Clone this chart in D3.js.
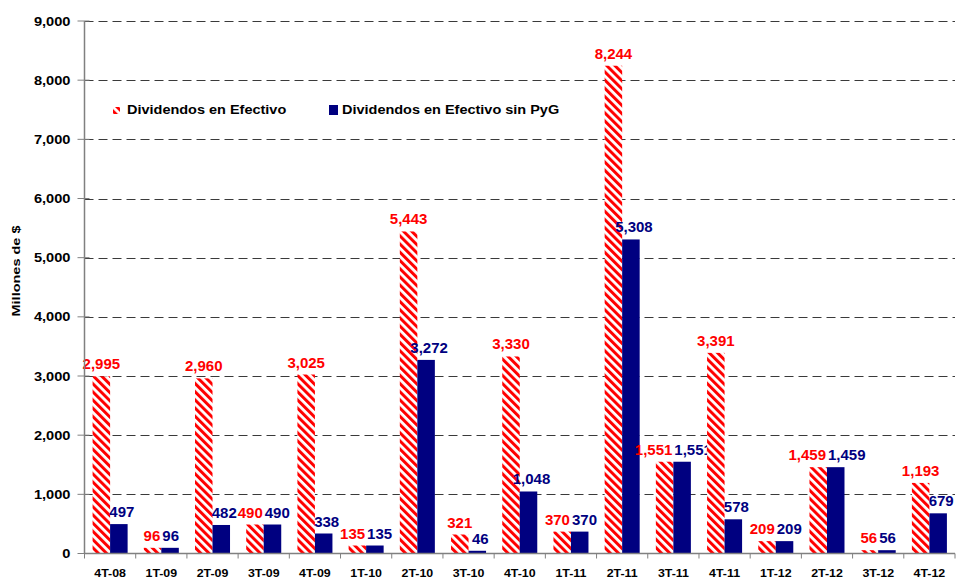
<!DOCTYPE html>
<html>
<head>
<meta charset="utf-8">
<script src="https://cdn.jsdelivr.net/npm/d3@7"></script>
<style>
  body { margin: 0; background: #fff; }
  svg { display: block; font-family: Arial, "Liberation Sans", sans-serif; }
</style>
</head>
<body>
<svg id="chart" width="956" height="581"></svg>
<script>
// ---------- data ----------
var quarters = ["4T-08","1T-09","2T-09","3T-09","4T-09","1T-10","2T-10","3T-10","4T-10","1T-11","2T-11","3T-11","4T-11","1T-12","2T-12","3T-12","4T-12"];
var efectivo = [2995, 96, 2960, 490, 3025, 135, 5443, 321, 3330, 370, 8244, 1551, 3391, 209, 1459, 56, 1193];
var sinPyG   = [497, 96, 482, 490, 338, 135, 3272, 46, 1048, 370, 5308, 1551, 578, 209, 1459, 56, 679];
var yTicks   = [0, 1000, 2000, 3000, 4000, 5000, 6000, 7000, 8000, 9000];
var seriesNames = ["Dividendos en Efectivo", "Dividendos en Efectivo sin PyG"];

var red = "#ff0000", navy = "#000080";
var fmt = d3.format(",");

// ---------- setup ----------
var svg = d3.select("#chart");
var plot = {left: 84.5, right: 955, top: 21, bottom: 553.5};

var defs = svg.append("defs");
var pat = defs.append("pattern")
  .attr("id", "hatch")
  .attr("patternUnits", "userSpaceOnUse")
  .attr("width", 5.8).attr("height", 5.8)
  .attr("patternTransform", "rotate(-45)");
pat.append("rect").attr("width", 5.8).attr("height", 5.8).attr("fill", "#fff");
pat.append("rect").attr("width", 3).attr("height", 5.8).attr("fill", red);

var xScale = d3.scaleBand()
  .domain(quarters)
  .range([plot.left, plot.right])
  .paddingInner(0.316)
  .paddingOuter(0.158);
var inner = d3.scaleBand().domain([0, 1]).range([0, xScale.bandwidth()]);

var yScale = d3.scaleLinear()
  .domain([0, 9000])
  .range([plot.bottom, plot.top]);

// ---------- gridlines ----------
svg.append("g")
  .selectAll("line")
  .data(yTicks.filter(function (d) { return d > 0; }))
  .enter()
  .append("line")
  .attr("x1", plot.left).attr("x2", plot.right)
  .attr("y1", function (d) { return Math.round(yScale(d)) + 0.5; })
  .attr("y2", function (d) { return Math.round(yScale(d)) + 0.5; })
  .attr("stroke", "#3a3a3a")
  .attr("stroke-dasharray", "9,5");

// ---------- bars ----------
var rows = quarters.map(function (q, i) {
  return {q: q, vals: [efectivo[i], sinPyG[i]]};
});

var groups = svg.append("g")
  .selectAll("g")
  .data(rows)
  .enter()
  .append("g")
  .attr("transform", function (d) { return "translate(" + xScale(d.q) + ",0)"; });

groups.selectAll("rect")
  .data(function (d) { return d.vals; })
  .enter()
  .append("rect")
  .attr("x", function (d, i) { return inner(i); })
  .attr("width", inner.bandwidth())
  .attr("y", function (d) { return yScale(d); })
  .attr("height", function (d) { return plot.bottom - yScale(d); })
  .attr("fill", function (d, i) { return i === 0 ? "url(#hatch)" : navy; });

// value labels: centred on their bar, pushed apart when a pair would collide
groups.each(function (row) {
  var g = d3.select(this);
  var mid = xScale.bandwidth() / 2;
  var labels = g.selectAll("text.val")
    .data(row.vals)
    .enter()
    .append("text")
    .attr("class", "val")
    .attr("y", function (d) { return yScale(d) - 7; })
    .attr("text-anchor", "middle")
    .attr("font-size", 15)
    .attr("font-weight", "bold")
    .attr("fill", function (d, i) { return i === 0 ? red : navy; })
    .text(function (d) { return fmt(d); });
  labels.attr("x", function (d, i) {
    var w = this.getComputedTextLength();
    var barC = inner(i) + inner.bandwidth() / 2;
    var other = row.vals[1 - i];
    var close = Math.abs(yScale(d) - yScale(other)) < 16;
    if (!close) return barC + (i === 0 ? 0 : 3);
    var off = Math.max(Math.abs(barC - mid), w / 2 + 1);
    return i === 0 ? mid - off : mid + off;
  });
});

// ---------- axes ----------
var yAxis = svg.append("g");
yAxis.append("line")
  .attr("x1", plot.left).attr("x2", plot.left)
  .attr("y1", plot.top).attr("y2", plot.bottom)
  .attr("stroke", "#808080").attr("stroke-width", 1.5);
var yt = yAxis.selectAll("g.tick")
  .data(yTicks)
  .enter()
  .append("g")
  .attr("class", "tick")
  .attr("transform", function (d) { return "translate(0," + yScale(d) + ")"; });
yt.append("line")
  .attr("x1", plot.left - 7).attr("x2", plot.left + 5)
  .attr("stroke", "#808080");
yt.append("text")
  .attr("transform", "translate(" + (plot.left - 14) + ",4.5) scale(1.22,1)")
  .attr("text-anchor", "end")
  .attr("font-size", 12)
  .attr("font-weight", "bold")
  .text(function (d) { return fmt(d); });

var xAxis = svg.append("g")
  .attr("transform", "translate(0," + plot.bottom + ")");
xAxis.append("line")
  .attr("x1", plot.left).attr("x2", plot.right)
  .attr("stroke", "#808080").attr("stroke-width", 1.5);
var step = xScale.step();
xAxis.selectAll(".tk")
  .data(d3.range(quarters.length + 1))
  .enter()
  .append("line")
  .attr("class", "tk")
  .attr("x1", function (i) { return plot.left + i * step; })
  .attr("x2", function (i) { return plot.left + i * step; })
  .attr("y1", 0).attr("y2", 5)
  .attr("stroke", "#808080");
xAxis.selectAll("text")
  .data(quarters)
  .enter()
  .append("text")
  .attr("transform", function (d) {
    return "translate(" + (xScale(d) + xScale.bandwidth() / 2) + ",23) scale(1.18,1)";
  })
  .attr("text-anchor", "middle")
  .attr("font-size", 10.5)
  .attr("font-weight", "bold")
  .text(function (d) { return d; });

// y label
svg.append("text")
  .attr("transform", "translate(19.5,271) rotate(-90) scale(1.25,1)")
  .attr("text-anchor", "middle")
  .attr("font-size", 11.6)
  .attr("font-weight", "bold")
  .text("Millones de $");

// ---------- legend ----------
var legendX = [113, 329];
var legend = svg.append("g")
  .selectAll("g")
  .data(seriesNames)
  .enter()
  .append("g")
  .attr("transform", function (d, i) { return "translate(" + legendX[i] + ",105)"; });
legend.append("rect")
  .attr("y", function (d, i) { return i === 0 ? 2 : 0; })
  .attr("width", function (d, i) { return i === 0 ? 7 : 9; })
  .attr("height", function (d, i) { return i === 0 ? 7 : 10; })
  .attr("fill", function (d, i) { return i === 0 ? "url(#hatch)" : navy; });
legend.append("text")
  .attr("transform", function (d, i) { return "translate(" + (i === 0 ? 14 : 13) + ",9) scale(1.15,1)"; })
  .attr("font-size", 12.6)
  .attr("font-weight", "bold")
  .text(function (d) { return d; });
</script>
</body>
</html>
